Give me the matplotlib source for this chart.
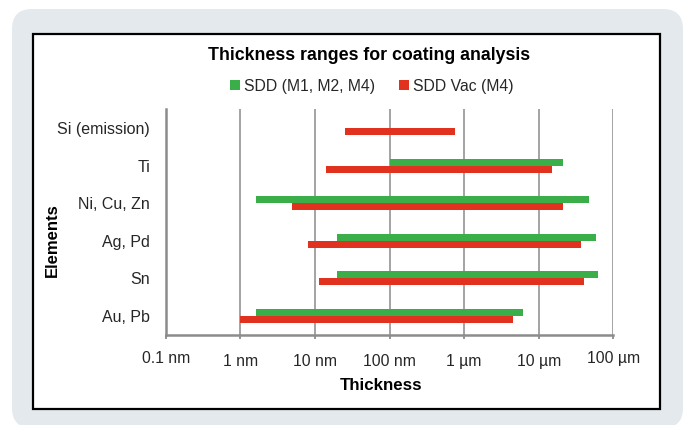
import matplotlib
matplotlib.use("Agg")
import matplotlib.pyplot as plt
from matplotlib.patches import FancyBboxPatch, Rectangle, Patch

plt.rcParams['font.family'] = ['Liberation Sans', 'DejaVu Sans']

# ---- data (thickness in nm) ----
categories = ['Au, Pb', 'Sn', 'Ag, Pd', 'Ni, Cu, Zn', 'Ti', 'Si (emission)']
sdd_start = [1.6, 20, 20, 1.6, 100, None]
sdd_end = [6200, 62000, 58000, 47000, 21000, None]
vac_start = [1.0, 11.5, 8.0, 5.0, 14, 25]
vac_end = [4500, 40000, 37000, 21000, 15000, 750]
tick_values = [0.1, 1, 10, 100, 1000, 10000, 100000]
tick_labels = ['0.1 nm', '1 nm', '10 nm', '100 nm', '1 µm', '10 µm', '100 µm']
series_names = ['SDD (M1, M2, M4)', 'SDD Vac (M4)']

GREEN = '#3aae48'
RED = '#e1321f'
BG = '#e4e9ed'
GRID = '#9c9c9c'
AXC = '#8c8c8c'
TXT = '#262626'

W, H = 687, 425
fig = plt.figure(figsize=(W / 100, H / 100), dpi=100)
fig.patch.set_facecolor('white')

# outer rounded grey panel
outer = FancyBboxPatch((12 / 100, (H - 428) / 100), (683 - 12) / 100, (428 - 9) / 100,
                       boxstyle='round,pad=0,rounding_size=0.2',
                       transform=fig.dpi_scale_trans, facecolor=BG, edgecolor='none', zorder=0)
fig.patches.append(outer)
# inner white box with black border
inner = Rectangle((33 / 100, (H - 409) / 100), (660 - 33) / 100, (409 - 34) / 100,
                  transform=fig.dpi_scale_trans, facecolor='white', edgecolor='black',
                  linewidth=1.6, zorder=1)
fig.patches.append(inner)

ax_l, ax_r, ax_t, ax_b = 165.7, 613.3, 109.2, 334.8
ax = fig.add_axes([ax_l / W, 1 - ax_b / H, (ax_r - ax_l) / W, (ax_b - ax_t) / H])
ax.set_zorder(2)
ax.patch.set_visible(False)

h = 0.185
ypos = list(range(len(categories)))
for i in ypos:
    if sdd_start[i] is not None:
        ax.barh(i + h / 2, sdd_end[i] - sdd_start[i], left=sdd_start[i], height=h,
                color=GREEN, zorder=3)
    if vac_start[i] is not None:
        ax.barh(i - h / 2, vac_end[i] - vac_start[i], left=vac_start[i], height=h,
                color=RED, zorder=3)

ax.set_xscale('log')
ax.set_xlim(tick_values[0], tick_values[-1])
ax.set_ylim(-0.5, len(categories) - 0.5)
ax.set_xticks(tick_values, tick_labels)
ax.minorticks_off()
ax.set_yticks(ypos, categories)

for s in ['top', 'right']:
    ax.spines[s].set_visible(False)
ax.spines['left'].set_color(AXC)
ax.spines['left'].set_linewidth(1.8)
ax.spines['bottom'].set_color(AXC)
ax.spines['bottom'].set_linewidth(1.8)

ax.grid(axis='x', color=GRID, linewidth=1.3, zorder=1)
ax.set_axisbelow(True)

ax.tick_params(axis='y', length=0, pad=11.3, labelsize=11.5, labelcolor=TXT)
ax.tick_params(axis='x', length=3.2, width=1.3, color=AXC, pad=10.5,
               labelsize=11.3, labelcolor=TXT)
xl = ax.get_xticklabels()
for idx in (0, len(xl) - 1):
    xl[idx].set_y(0.014)

# title, legend, axis titles
fig.text(369 / W, 1 - 60 / H, 'Thickness ranges for coating analysis', ha='center',
         va='baseline', fontsize=12.8, fontweight='bold', color='black')
handles = [Patch(facecolor=GREEN, edgecolor='none'), Patch(facecolor=RED, edgecolor='none')]
fig.legend(handles, series_names, loc='center', bbox_to_anchor=(371.5 / W, 1 - 86 / H),
           ncol=2, frameon=False, fontsize=11.3, handlelength=0.62, handleheight=0.6,
           handletextpad=0.25, columnspacing=1.55, labelcolor=TXT, borderpad=0)
fig.text(381.5 / W, 1 - 386 / H, 'Thickness', ha='center', va='center',
         fontsize=12.2, fontweight='bold', color='black')
fig.text(52 / W, 1 - 240 / H, 'Elements', ha='center', va='center', rotation=90,
         fontsize=12, fontweight='bold', color='black')

fig.savefig('out.png', dpi=100)
